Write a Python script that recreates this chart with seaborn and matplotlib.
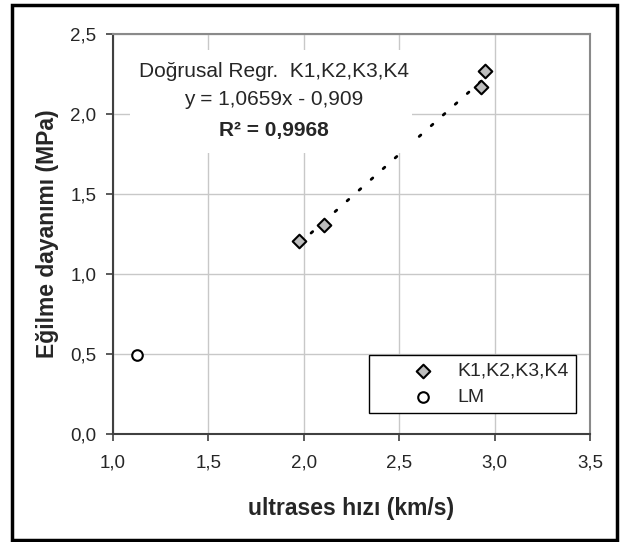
import numpy as np
import pandas as pd
import matplotlib
matplotlib.use("Agg")
import matplotlib.pyplot as plt
import seaborn as sns
from matplotlib.patches import Rectangle

# data
k_hiz = [1.975, 2.106, 2.931, 2.951]          # K1,K2,K3,K4  ultrases hizi (km/s)
k_dayanim = [1.206, 1.309, 2.171, 2.266]      # egilme dayanimi (MPa)
lm_hiz = [1.124]
lm_dayanim = [0.491]

x_ticks = [1.0, 1.5, 2.0, 2.5, 3.0, 3.5]
x_tick_labels = ["1,0", "1,5", "2,0", "2,5", "3,0", "3,5"]
y_ticks = [0.0, 0.5, 1.0, 1.5, 2.0, 2.5]
y_tick_labels = ["0,0", "0,5", "1,0", "1,5", "2,0", "2,5"]

reg_lines = ["Doğrusal Regr.  K1,K2,K3,K4", "y = 1,0659x - 0,909", "R² = 0,9968"]

sns.set_style("white")
plt.rcParams["font.family"] = ["Liberation Sans", "DejaVu Sans"]

fig = plt.figure(figsize=(6.2, 5.42), dpi=100)
ax = fig.add_axes([0.1823, 0.1993, 0.7693, 0.738])

df_k = pd.DataFrame({"hiz": k_hiz, "dayanim": k_dayanim})
df_lm = pd.DataFrame({"hiz": lm_hiz, "dayanim": lm_dayanim})

# trend line (dotted) for K group
sns.regplot(data=df_k, x="hiz", y="dayanim", scatter=False, ci=None, ax=ax,
            line_kws=dict(color="black", lw=2.0, linestyle=(0, (0.8, 5)),
                          dash_capstyle="round", zorder=2))

# white label box of the trendline equation
ax.add_patch(Rectangle((0.036, 0.7025), 0.591, 0.2575, transform=ax.transAxes,
                       facecolor="white", edgecolor="none", zorder=3))
ax.text(1.844, 2.266, reg_lines[0], ha="center", va="center", fontsize=15, zorder=4)
ax.text(1.844, 2.089, reg_lines[1], ha="center", va="center", fontsize=15, zorder=4)
ax.text(1.844, 1.894, reg_lines[2], ha="center", va="center", fontsize=15,
        fontweight="bold", zorder=4)

sns.scatterplot(data=df_k, x="hiz", y="dayanim", marker="D", s=48,
                color="#bdbdbd", edgecolor="black", linewidth=1.5,
                label="K1,K2,K3,K4", ax=ax, zorder=5)
sns.scatterplot(data=df_lm, x="hiz", y="dayanim", marker="o", s=58,
                color="white", edgecolor="black", linewidth=1.5,
                label="LM", ax=ax, zorder=5)

ax.set_xlim(1.0, 3.5)
ax.set_ylim(0.0, 2.5)
ax.set_xticks(x_ticks)
ax.set_xticklabels(x_tick_labels)
ax.set_yticks(y_ticks)
ax.set_yticklabels(y_tick_labels)
ax.grid(True, color="#c8c8c8", lw=1.0)
ax.set_axisbelow(True)

ax.tick_params(axis="x", direction="out", length=5, width=1.2, color="#404040",
               pad=10, labelsize=13.5, bottom=True)
ax.tick_params(axis="y", direction="out", length=5, width=1.2, color="#404040",
               pad=7, labelsize=13.5, left=True)

for side in ["left", "bottom"]:
    ax.spines[side].set_color("#404040")
    ax.spines[side].set_linewidth(1.5)
for side in ["top", "right"]:
    ax.spines[side].set_color("#8a8a8a")
    ax.spines[side].set_linewidth(1.5)

ax.set_xlabel("ultrases hızı (km/s)", fontsize=16.5, fontweight="bold", labelpad=18)
ax.set_ylabel("Eğilme dayanımı (MPa)", fontsize=16.5, fontweight="bold", labelpad=8)

leg = ax.legend(loc="lower right", bbox_to_anchor=(0.9706, 0.0525), borderaxespad=0,
                fontsize=14, frameon=True, fancybox=False, shadow=False,
                borderpad=0.35, handlelength=4.9, handletextpad=-0.67,
                labelspacing=0.45, framealpha=1)
leg.get_frame().set_edgecolor("black")
leg.get_frame().set_linewidth(1.0)

# outer chart border
fig.patches.append(Rectangle((0.0194, 0.0037), 0.9758, 0.9871, transform=fig.transFigure,
                             fill=False, edgecolor="black", lw=2.5))

fig.savefig("out.png", dpi=100)
